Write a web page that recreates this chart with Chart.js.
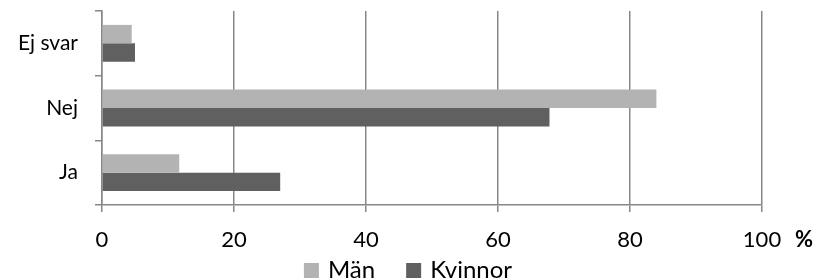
<!DOCTYPE html>
<html>
<head>
<meta charset="utf-8">
<script src="https://cdn.jsdelivr.net/npm/chart.js@4"></script>
<style>
  body { margin: 0; background: #fff; }
  #wrap { width: 816px; height: 280px; }
</style>
</head>
<body>
<div id="wrap"><canvas id="chart" width="816" height="280"></canvas></div>
<script>
// data (percent)
var categories = ['Ej svar', 'Nej', 'Ja'];
var manValues = [4.5, 84.0, 11.7];
var kvinnorValues = [5.0, 67.8, 27.0];
var seriesNames = ['Män', 'Kvinnor'];
var seriesColors = ['#b3b3b3', '#606060'];
var xMin = 0, xMax = 100, xStep = 20;

var gridGray = '#878787';
var fontName = 'Lato';

// bold % sign after the 100 label + legend drawn at the very bottom
var extrasPlugin = {
  id: 'extras',
  afterDraw: function(chart) {
    var ctx = chart.ctx;
    var xs = chart.scales.x;
    ctx.save();
    ctx.fillStyle = '#000';
    ctx.textBaseline = 'middle';
    ctx.textAlign = 'left';
    ctx.font = 'bold 22px ' + fontName;
    ctx.fillText('%', xs.getPixelForValue(xMax) + 33, xs.top + 35);

    // legend
    ctx.font = '24px ' + fontName;
    var box = 15, gapText = 9, gapItem = 31;
    var total = 0;
    chart.data.datasets.forEach(function(ds, i) {
      total += box + gapText + ctx.measureText(ds.label).width;
      if (i > 0) total += gapItem;
    });
    var x = chart.width / 2 - total / 2;
    var yMid = 270;
    chart.data.datasets.forEach(function(ds) {
      ctx.fillStyle = ds.backgroundColor;
      ctx.fillRect(x, yMid - 7, box, box);
      x += box + gapText;
      ctx.fillStyle = '#000';
      ctx.fillText(ds.label, x, yMid);
      x += ctx.measureText(ds.label).width + gapItem;
    });
    ctx.restore();
  }
};

var ctx = document.getElementById('chart').getContext('2d');
var myChart = new Chart(ctx, {
  type: 'bar',
  data: {
    labels: categories,
    datasets: [
      { label: seriesNames[0], data: manValues, backgroundColor: seriesColors[0] },
      { label: seriesNames[1], data: kvinnorValues, backgroundColor: seriesColors[1] }
    ]
  },
  options: {
    indexAxis: 'y',
    responsive: false,
    animation: false,
    maintainAspectRatio: false,
    categoryPercentage: 0.57,
    barPercentage: 1.0,
    layout: { padding: { left: 0, right: 54, top: 11, bottom: 30 } },
    plugins: {
      legend: { display: false },
      tooltip: { enabled: false }
    },
    scales: {
      x: {
        min: xMin, max: xMax,
        ticks: { stepSize: xStep, color: '#000', padding: 15, font: { family: fontName, size: 22 } },
        grid: { color: gridGray, lineWidth: 1.5, tickLength: 7 },
        border: { color: gridGray, width: 1.5 },
        afterFit: function(scale) { scale.height = 45; }
      },
      y: {
        ticks: { color: '#000', padding: 17, font: { family: fontName, size: 21 } },
        grid: { offset: true, drawOnChartArea: false, color: gridGray, lineWidth: 1.5, tickLength: 7 },
        border: { color: gridGray, width: 1.5 },
        afterFit: function(scale) {
          scale.width = 102;
          scale.paddingTop = 0;
          scale.paddingBottom = 0;
        }
      }
    }
  },
  plugins: [extrasPlugin]
});
</script>
</body>
</html>
